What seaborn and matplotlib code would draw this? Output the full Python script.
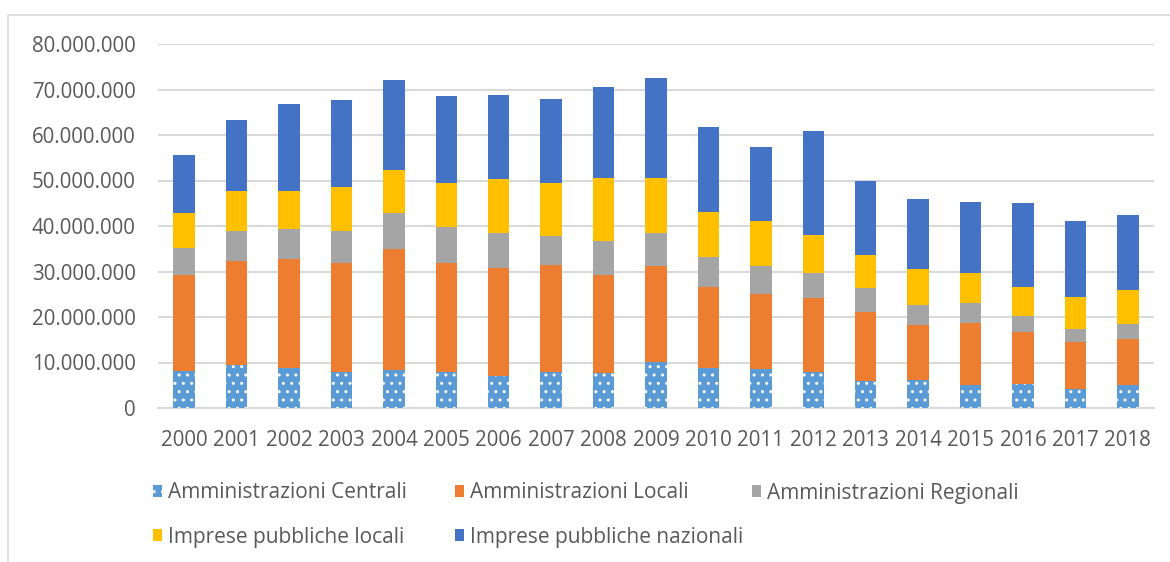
import matplotlib
matplotlib.use("Agg")
import matplotlib.pyplot as plt
import matplotlib.patches as mpatches
import seaborn as sns
import numpy as np
import pandas as pd

# --- data (values in euro) ---
years = [str(y) for y in range(2000, 2019)]
amm_centrali = [8.1, 9.5, 8.8, 8.0, 8.35, 8.0, 7.0, 7.9, 7.8, 10.1,
                8.9, 8.5, 7.9, 6.0, 6.2, 5.1, 5.3, 4.2, 5.0]
amm_locali = [21.1, 22.9, 23.9, 23.9, 26.55, 23.9, 23.7, 23.5, 21.4, 21.0,
              17.6, 16.5, 16.2, 15.2, 12.1, 13.5, 11.3, 10.2, 10.2]
amm_regionali = [6.0, 6.4, 6.6, 6.9, 8.0, 7.9, 7.7, 6.5, 7.4, 7.3,
                 6.6, 6.1, 5.6, 5.1, 4.3, 4.4, 3.6, 3.0, 3.2]
imp_locali = [7.7, 9.0, 8.5, 9.8, 9.3, 9.7, 11.9, 11.6, 13.9, 12.1,
              10.0, 10.0, 8.3, 7.4, 7.9, 6.7, 6.3, 7.0, 7.5]
imp_nazionali = [12.6, 15.5, 19.1, 19.0, 19.8, 19.1, 18.4, 18.4, 20.0, 22.0,
                 18.6, 16.2, 22.9, 16.3, 15.4, 15.6, 18.5, 16.6, 16.6]

series_names = ["Amministrazioni Centrali", "Amministrazioni Locali",
                "Amministrazioni Regionali", "Imprese pubbliche locali",
                "Imprese pubbliche nazionali"]
series_colors = ["#5B9BD5", "#ED7D31", "#A5A5A5", "#FFC000", "#4472C4"]

df = pd.DataFrame({
    "anno": years,
    series_names[0]: np.array(amm_centrali) * 1e6,
    series_names[1]: np.array(amm_locali) * 1e6,
    series_names[2]: np.array(amm_regionali) * 1e6,
    series_names[3]: np.array(imp_locali) * 1e6,
    series_names[4]: np.array(imp_nazionali) * 1e6,
})

sns.set_style("white")
plt.rcParams["font.family"] = ["Open Sans", "DejaVu Sans"]
plt.rcParams["hatch.linewidth"] = 1.0

W, H = 1170, 562
fig = plt.figure(figsize=(W / 100, H / 100), dpi=100)
ax = fig.add_axes([158 / W, 1 - 408 / H, (1154 - 158) / W, (408 - 44) / H])

text_col = "#595959"
grid_col = "#D9D9D9"

# stacked bars: each layer sits on the running total of the previous ones
bottom = np.zeros(len(years))
for i, name in enumerate(series_names):
    kws = dict(color=series_colors[i], width=0.41, linewidth=0, saturation=1)
    if i == 0:
        kws.update(hatch="..", edgecolor="white")
    sns.barplot(x="anno", y=name, data=df, bottom=bottom, ax=ax, zorder=3, **kws)
    bottom = bottom + df[name].values

ax.set_ylim(0, 80e6)
ax.set_yticks(np.arange(0, 80e6 + 1, 10e6))
ax.set_yticklabels([f"{int(v):,}".replace(",", ".") for v in ax.get_yticks()])
ax.set_xlim(-0.5, len(years) - 0.5)
ax.set_xlabel("")
ax.set_ylabel("")
ax.grid(axis="y", color=grid_col, linewidth=1.5, zorder=0)
ax.set_axisbelow(True)
for s in ["top", "right", "left"]:
    ax.spines[s].set_visible(False)
ax.spines["bottom"].set_color(grid_col)
ax.spines["bottom"].set_linewidth(1.5)
ax.tick_params(axis="y", length=0, pad=16, labelsize=14.8, labelcolor=text_col)
ax.tick_params(axis="x", length=0, pad=16, labelsize=14.8, labelcolor=text_col)

# chart area border (top and left edges visible)
fig.patches.append(mpatches.Rectangle((8 / W, -0.1), 1.2, 1 - 15 / H + 0.1,
                                      transform=fig.transFigure, fill=False,
                                      edgecolor="#D9D9D9", linewidth=1.2))

# legend, one entry per slot as in the original
legend_slots = [(153, 493), (455, 493), (752, 493), (153, 537), (455, 537)]
for i, name in enumerate(series_names):
    if i == 0:
        h = mpatches.Patch(facecolor=series_colors[i], hatch="..",
                           edgecolor="white", linewidth=0)
    else:
        h = mpatches.Patch(facecolor=series_colors[i], linewidth=0)
    x, y = legend_slots[i]
    fig.legend(handles=[h], labels=[name], loc="center left",
               bbox_to_anchor=(x / W, 1 - y / H), frameon=False,
               handlelength=0.45, handleheight=0.45, handletextpad=0.25,
               borderpad=0, borderaxespad=0, fontsize=15,
               labelcolor=text_col)

fig.savefig("out.png", dpi=100)
